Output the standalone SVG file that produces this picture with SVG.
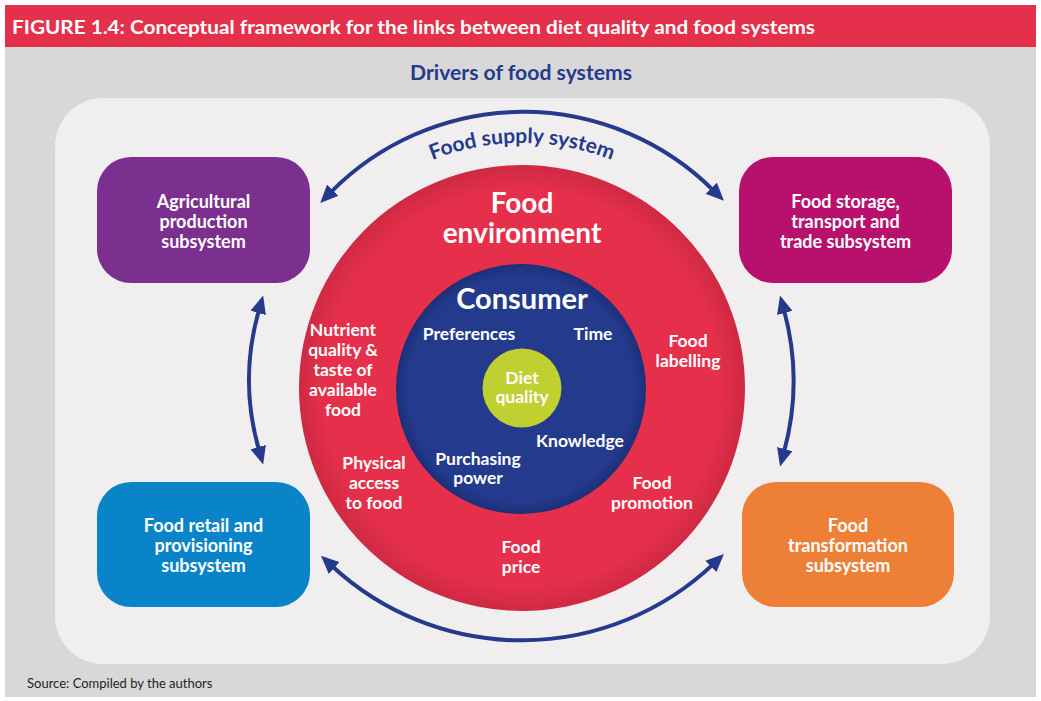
<svg xmlns="http://www.w3.org/2000/svg" width="1041" height="701" viewBox="0 0 1041 701">
<style>
.t{font-family:Lato,"Open Sans","Liberation Sans",sans-serif;font-weight:700;fill:#fff;text-anchor:middle}
.s16{font-size:17.5px}
.bx{font-size:18px}
.blue{fill:#253a8d}
.conn{fill:none;stroke:#253a8d;stroke-width:4;marker-start:url(#ah);marker-end:url(#ah)}
</style>
<defs>
<marker id="ah" viewBox="0 0 18 16" refX="3" refY="8" markerWidth="18" markerHeight="16" markerUnits="userSpaceOnUse" orient="auto-start-reverse">
<path d="M0,0 L18,8 L0,16 z" fill="#253a8d"/>
</marker>
<radialGradient id="rg" cx="0.5" cy="0.5" r="0.5">
<stop offset="0.88" stop-color="#e6304b"/>
<stop offset="1" stop-color="#cf2943"/>
</radialGradient>
<radialGradient id="bg" cx="0.5" cy="0.5" r="0.5">
<stop offset="0.9" stop-color="#243a8d"/>
<stop offset="1" stop-color="#1d2f78"/>
</radialGradient>
<path id="tp" d="M309.8,265.5 A245,245 0 0,1 734.2,265.5"/>
</defs>
<rect x="0" y="0" width="1041" height="701" fill="#ffffff"/>
<rect x="5" y="47" width="1031" height="650" fill="#d9d8d9"/>
<rect x="5" y="5" width="1031" height="42" fill="#e5304c"/>
<text x="12" y="34" font-family="Lato,'Liberation Sans',sans-serif" font-weight="700" font-size="19" fill="#fff" textLength="803" lengthAdjust="spacingAndGlyphs">FIGURE 1.4: Conceptual framework for the links between diet quality and food systems</text>
<text x="521" y="80" class="t blue" font-size="20" textLength="222" lengthAdjust="spacingAndGlyphs">Drivers of food systems</text>
<rect x="55" y="98" width="935" height="566" rx="48" fill="#f0eeef"/>
<text x="27" y="688" font-family="Lato,'Liberation Sans',sans-serif" font-size="13" fill="#231f20">Source: Compiled by the authors</text>

<g id="food-environment">
<circle cx="522" cy="388" r="223" fill="url(#rg)"/>
<text class="t" font-size="28"><tspan x="522" y="213">Food</tspan><tspan x="522" y="243">environment</tspan></text>
<text class="t s16"><tspan x="343" y="336">Nutrient</tspan><tspan x="343" y="356">quality &amp;</tspan><tspan x="343" y="376">taste of</tspan><tspan x="343" y="396">available</tspan><tspan x="343" y="416">food</tspan></text>
<text class="t s16"><tspan x="688" y="347">Food</tspan><tspan x="688" y="367">labelling</tspan></text>
<text class="t s16"><tspan x="374" y="469">Physical</tspan><tspan x="374" y="489">access</tspan><tspan x="374" y="509">to food</tspan></text>
<text class="t s16"><tspan x="652" y="489">Food</tspan><tspan x="652" y="509">promotion</tspan></text>
<text class="t s16"><tspan x="521" y="553">Food</tspan><tspan x="521" y="573">price</tspan></text>
</g>

<g id="consumer">
<circle cx="521" cy="389" r="125" fill="url(#bg)"/>
<text x="522" y="309" class="t" font-size="29">Consumer</text>
<text x="469" y="340" class="t s16">Preferences</text>
<text x="593" y="340" class="t s16">Time</text>
<text x="580" y="447" class="t s16">Knowledge</text>
<text class="t s16"><tspan x="478" y="465">Purchasing</tspan><tspan x="478" y="484">power</tspan></text>
</g>

<g id="diet-quality">
<circle cx="522" cy="388" r="39.5" fill="#bfd030"/>
<text class="t" font-size="17.5"><tspan x="522" y="384">Diet</tspan><tspan x="522" y="403">quality</tspan></text>
</g>

<g id="agricultural">
<rect x="97" y="157" width="213" height="126" rx="34" fill="#7b2f8e"/>
<text class="t bx"><tspan x="203.5" y="208">Agricultural</tspan><tspan x="203.5" y="228">production</tspan><tspan x="203.5" y="248">subsystem</tspan></text>
</g>

<g id="storage">
<rect x="739" y="157" width="213" height="126" rx="34" fill="#b8106d"/>
<text class="t bx"><tspan x="845.5" y="208">Food storage,</tspan><tspan x="845.5" y="228">transport and</tspan><tspan x="845.5" y="248">trade subsystem</tspan></text>
</g>

<g id="retail">
<rect x="97" y="482" width="213" height="125" rx="34" fill="#0a84c8"/>
<text class="t bx"><tspan x="203.5" y="532">Food retail and</tspan><tspan x="203.5" y="552">provisioning</tspan><tspan x="203.5" y="572">subsystem</tspan></text>
</g>

<g id="transformation">
<rect x="742" y="482" width="212" height="125" rx="34" fill="#ee7f37"/>
<text class="t bx"><tspan x="848" y="532">Food</tspan><tspan x="848" y="552">transformation</tspan><tspan x="848" y="572">subsystem</tspan></text>
</g>

<g id="connectors">
<path class="conn" d="M330.7,192.3 A270,270 0 0,1 713.3,190.3"/>
<path class="conn" d="M332,566 A279,279 0 0,0 713,564.4"/>
<path class="conn" d="M259,310 A253,253 0 0,0 259,450"/>
<path class="conn" d="M784,310 A270,270 0 0,1 784,452"/>
<text class="t blue" font-size="21"><textPath href="#tp" startOffset="50%">Food supply system</textPath></text>
</g>
</svg>
